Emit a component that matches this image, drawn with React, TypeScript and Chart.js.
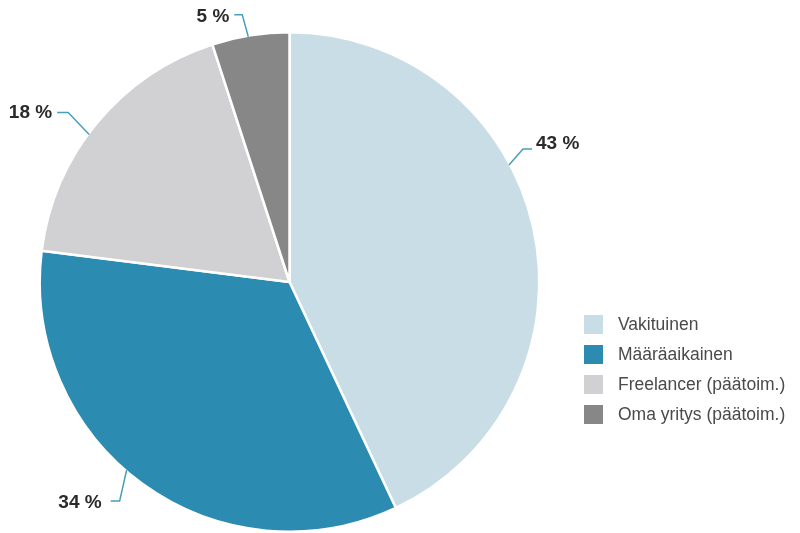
import React, { useEffect, useRef } from "react";
import { Chart, registerables } from "chart.js";

Chart.register(...registerables);

const categories = ["Vakituinen", "Määräaikainen", "Freelancer (päätoim.)", "Oma yritys (päätoim.)"];
const shares = [43, 34, 18, 5];
const valueLabels = ["43 %", "34 %", "18 %", "5 %"];

const sliceColors = ["#c9dde6", "#2b8bb1", "#d1d1d3", "#878787"];
const labelAnchorFrac = [0.4, 0.54, 0.45, 0.47];
const leaderElbow = [
  [14, -16],
  [-7, 31],
  [-21, -22],
  [-6, -22],
];
const leaderHoriz = [9, 9, 11, 8];
const labelGap = [4, 9, 5, 5];
const labelDy = [-5, 2, 0, 2];
const leaderColor = "#4a9fb8";

const labelPlugin = {
  id: "pieLabels",
  afterDatasetsDraw(chart: any) {
    const ctx = chart.ctx;
    const meta = chart.getDatasetMeta(0);
    ctx.save();
    meta.data.forEach((arc: any, i: number) => {
      const p = arc.getProps(["x", "y", "startAngle", "endAngle", "outerRadius"], true);
      const a = p.startAngle + labelAnchorFrac[i] * (p.endAngle - p.startAngle);
      const c = Math.cos(a);
      const s = Math.sin(a);
      const ex = p.x + (p.outerRadius - 1) * c;
      const ey = p.y + (p.outerRadius - 1) * s;
      const kx = ex + leaderElbow[i][0];
      const ky = ey + leaderElbow[i][1];
      const side = c >= 0 ? 1 : -1;
      const hx = kx + side * leaderHoriz[i];
      ctx.beginPath();
      ctx.strokeStyle = leaderColor;
      ctx.lineWidth = 1.5;
      ctx.moveTo(ex, ey);
      ctx.lineTo(kx, ky);
      ctx.lineTo(hx, ky);
      ctx.stroke();
      ctx.fillStyle = "#2b2b2b";
      ctx.font = "bold 19px 'Liberation Sans', Arial, sans-serif";
      ctx.textBaseline = "middle";
      ctx.textAlign = side > 0 ? "left" : "right";
      ctx.fillText(valueLabels[i], hx + side * labelGap[i], ky + labelDy[i]);
    });
    ctx.restore();
  },
};

const legendPlugin = {
  id: "customLegend",
  afterDraw(chart: any) {
    const ctx = chart.ctx;
    const labels = chart.data.labels as string[];
    const bg = chart.data.datasets[0].backgroundColor as string[];
    ctx.save();
    labels.forEach((lab, i) => {
      const cy = 325 + i * 30;
      ctx.fillStyle = bg[i];
      ctx.fillRect(584, cy - 10, 19, 19);
      ctx.fillStyle = "#4a4a4a";
      ctx.font = "17.5px 'Liberation Sans', Arial, sans-serif";
      ctx.textBaseline = "middle";
      ctx.textAlign = "left";
      ctx.fillText(lab, 618, cy);
    });
    ctx.restore();
  },
};

export default function App() {
  const ref = useRef<HTMLCanvasElement | null>(null);
  useEffect(() => {
    document.body.style.margin = "0";
    if (!ref.current) return;
    const chart = new Chart(ref.current, {
      type: "pie",
      data: {
        labels: categories,
        datasets: [
          {
            data: shares,
            backgroundColor: sliceColors,
            borderColor: "#ffffff",
            borderWidth: 2.5,
          },
        ],
      },
      options: {
        responsive: false,
        animation: false,
        layout: { padding: { left: 38, right: 259, top: 31, bottom: 0 } },
        plugins: { legend: { display: false }, tooltip: { enabled: false } },
      },
      plugins: [labelPlugin, legendPlugin],
    } as any);
    return () => chart.destroy();
  }, []);
  return (
    <div style={{ width: 800, height: 533, background: "#fff" }}>
      <canvas ref={ref} width={800} height={533} style={{ display: "block" }} />
    </div>
  );
}
